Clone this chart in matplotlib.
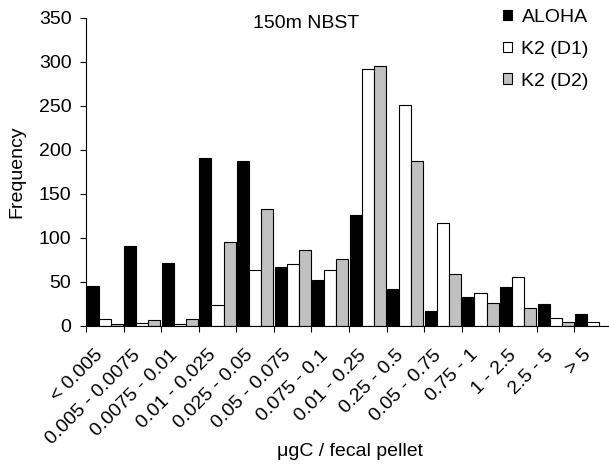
import numpy as np
import matplotlib.pyplot as plt
import matplotlib.transforms as mtransforms
from matplotlib.patches import Patch

plt.rcParams["font.family"] = ["Liberation Sans", "DejaVu Sans"]
plt.rcParams["font.size"] = 14

# size classes (ugC per fecal pellet)
size_classes = [
    "< 0.005", "0.005 - 0.0075", "0.0075 - 0.01", "0.01 - 0.025",
    "0.025 - 0.05", "0.05 - 0.075", "0.075 - 0.1", "0.01 - 0.25",
    "0.25 - 0.5", "0.05 - 0.75", "0.75 - 1", "1 - 2.5", "2.5 - 5", "> 5",
]

aloha = [45, 91, 72, 191, 188, 67, 52, 126, 42, 17, 33, 44, 25, 14]
k2_d1 = [8, 3, 2, 24, 64, 71, 64, 292, 251, 117, 38, 56, 9, 4]
k2_d2 = [2, 7, 8, 96, 133, 86, 76, 295, 187, 59, 26, 21, 4, 0]

series = [
    ("ALOHA", aloha, "black"),
    ("K2 (D1)", k2_d1, "white"),
    ("K2 (D2)", k2_d2, "#c0c0c0"),
]

W, H = 609, 472
fig = plt.figure(figsize=(W / 100, H / 100), dpi=100)
ax = fig.add_axes([86 / W, (H - 326) / H, (612 - 86) / W, (326 - 18) / H])

x = np.arange(len(size_classes))
bw = 0.32
for i, (name, vals, col) in enumerate(series):
    ax.bar(x + (i - 1) * bw, vals, width=bw, color=col,
           edgecolor="black", linewidth=0.8, label=name)

ax.set_xlim(-0.5, len(size_classes) - 0.5)
ax.set_ylim(0, 350)
ax.set_yticks(range(0, 351, 50))

# ticks on class boundaries, labels at centres
ax.set_xticks(np.arange(len(size_classes) + 1) - 0.5)
ax.set_xticklabels([])
ax.set_xticks(x, minor=True)
ax.set_xticklabels(size_classes, minor=True, rotation=45, ha="right",
                   va="center", rotation_mode="anchor")
ax.tick_params(axis="x", which="minor", length=0, pad=19)
ax.tick_params(axis="x", which="major", length=4.5, width=0.8)
ax.tick_params(axis="y", length=4.5, width=0.8, pad=6)
shift = mtransforms.ScaledTranslation(-4.5 / 100, 0, fig.dpi_scale_trans)
for lab in ax.get_xticklabels(minor=True):
    lab.set_transform(lab.get_transform() + shift)

for s in ["top", "right"]:
    ax.spines[s].set_visible(False)
ax.spines["left"].set_linewidth(0.8)
ax.spines["bottom"].set_linewidth(0.8)

fig.text(17 / W, 1 - 172 / H, "Frequency", rotation=90, ha="center", va="center")
fig.text(350 / W, 1 - 452 / H, "\u03bcgC / fecal pellet", ha="center", va="center")
fig.text(306.5 / W, 1 - 24 / H, "150m NBST", ha="center", va="center")

handles = [Patch(facecolor=c, edgecolor="black", linewidth=0.8) for _, _, c in series]
fig.legend(handles, [s[0] for s in series], loc="upper left",
           bbox_to_anchor=(503 / W, 1 - 9 / H), frameon=False,
           handlelength=0.45, handleheight=0.45, handletextpad=0.5,
           labelspacing=0.76, borderpad=0, borderaxespad=0)

fig.savefig("out.png", dpi=100)
